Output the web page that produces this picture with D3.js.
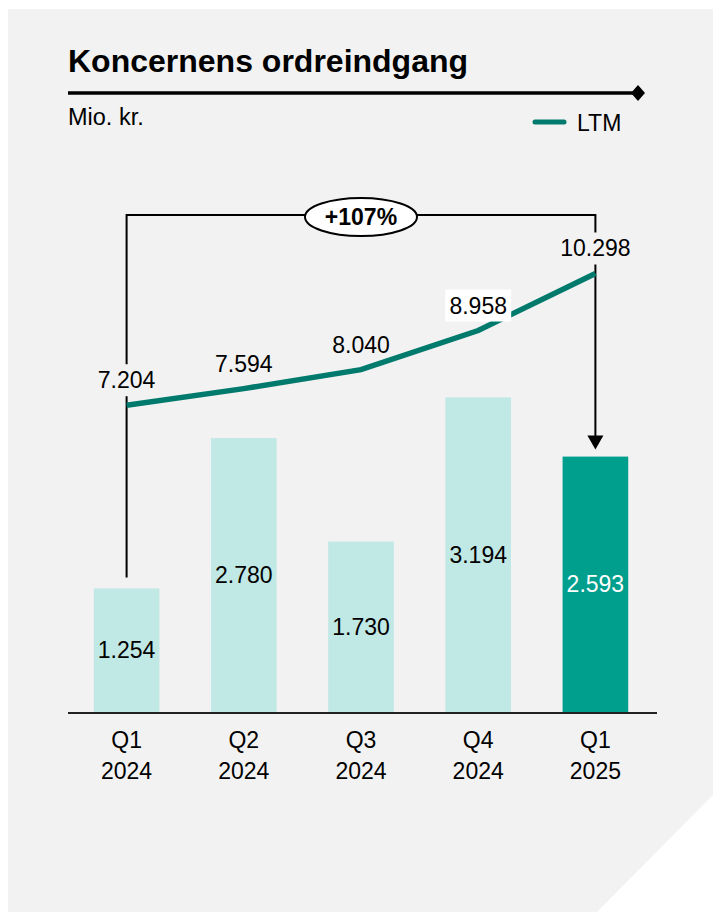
<!DOCTYPE html>
<html>
<head>
<meta charset="utf-8">
<script src="https://cdn.jsdelivr.net/npm/d3@7"></script>
<style>
	body { margin: 0; background: #ffffff; }
	svg { display: block; font-family: "Liberation Sans", Arial, sans-serif; }
</style>
</head>
<body>
<svg id="chart"></svg>
<script>
var quarters = ["Q1", "Q2", "Q3", "Q4", "Q1"];
var years = ["2024", "2024", "2024", "2024", "2025"];
var orderIntake = [1254, 2780, 1730, 3194, 2593];
var ltm = [7204, 7594, 8040, 8958, 10298];
var growthLabel = "+107%";

var width = 713;
var height = 912;

var svg = d3.select("#chart")
	.attr("width", width)
	.attr("height", height);

// panel with cut corner
svg.append("path")
	.attr("d", "M8,9 L713,9 L713,795 L597,912 L8,912 Z")
	.attr("fill", "#f2f2f2");

// title
svg.append("text")
	.attr("x", 68)
	.attr("y", 72)
	.attr("font-size", 32)
	.attr("font-weight", "bold")
	.attr("fill", "#000")
	.text("Koncernens ordreindgang");

svg.append("line")
	.attr("x1", 68).attr("x2", 636)
	.attr("y1", 93).attr("y2", 93)
	.attr("stroke", "#000")
	.attr("stroke-width", 3.5);

svg.append("path")
	.attr("d", "M638,85 L645,93 L638,101 L631,93 Z")
	.attr("fill", "#000");

svg.append("text")
	.attr("x", 68)
	.attr("y", 125)
	.attr("font-size", 23.5)
	.text("Mio. kr.");

// legend
svg.append("line")
	.attr("x1", 535).attr("x2", 564)
	.attr("y1", 122).attr("y2", 122)
	.attr("stroke", "#007a6c")
	.attr("stroke-width", 5)
	.attr("stroke-linecap", "round");

svg.append("text")
	.attr("x", 577)
	.attr("y", 131)
	.attr("font-size", 23)
	.text("LTM");

// scales
var xScale = d3.scaleBand()
	.domain(d3.range(quarters.length))
	.range([68, 654])
	.paddingInner(0.44)
	.paddingOuter(0.22);

var yBar = d3.scaleLinear()
	.domain([0, 4000])
	.range([712, 318]);

var yLine = d3.scaleLinear()
	.domain([0, 12000])
	.range([712, 201]);

function cx(i) { return xScale(i) + xScale.bandwidth() / 2; }

// bars
svg.selectAll(".bar")
	.data(orderIntake)
	.enter()
	.append("rect")
	.attr("class", "bar")
	.attr("x", function(d, i) { return xScale(i); })
	.attr("y", function(d) { return yBar(d); })
	.attr("width", xScale.bandwidth())
	.attr("height", function(d) { return yBar(0) - yBar(d); })
	.attr("fill", function(d, i) { return i == orderIntake.length - 1 ? "#009e8c" : "#c0e8e4"; });

svg.selectAll(".barlabel")
	.data(orderIntake)
	.enter()
	.append("text")
	.attr("class", "barlabel")
	.attr("x", function(d, i) { return cx(i); })
	.attr("y", function(d) { return (yBar(d) + yBar(0)) / 2 + 8; })
	.attr("text-anchor", "middle")
	.attr("font-size", 23)
	.attr("fill", function(d, i) { return i == orderIntake.length - 1 ? "#ffffff" : "#000"; })
	.text(function(d) { return d3.format(",")(d).replace(",", "."); });

// axis baseline
svg.append("line")
	.attr("x1", 68).attr("x2", 657)
	.attr("y1", yBar(0) + 1).attr("y2", yBar(0) + 1)
	.attr("stroke", "#222")
	.attr("stroke-width", 2);

// category labels
for (var i = 0; i < quarters.length; i++) {
	svg.append("text")
		.attr("x", cx(i))
		.attr("y", 748)
		.attr("text-anchor", "middle")
		.attr("font-size", 23)
		.text(quarters[i]);
	svg.append("text")
		.attr("x", cx(i))
		.attr("y", 779)
		.attr("text-anchor", "middle")
		.attr("font-size", 23)
		.text(years[i]);
}

// growth bracket
var last = ltm.length - 1;
var bracketY = 215;

svg.append("path")
	.attr("d", "M" + cx(0) + "," + (yBar(orderIntake[0]) - 11) +
		" L" + cx(0) + "," + bracketY +
		" L" + cx(last) + "," + bracketY +
		" L" + cx(last) + "," + (yBar(orderIntake[last]) - 18))
	.attr("fill", "none")
	.attr("stroke", "#000")
	.attr("stroke-width", 2);

var tipY = yBar(orderIntake[last]) - 7;
svg.append("path")
	.attr("d", "M" + (cx(last) - 8) + "," + (tipY - 14) + " L" + (cx(last) + 8) + "," + (tipY - 14) + " L" + cx(last) + "," + tipY + " Z")
	.attr("fill", "#000");

var midX = (cx(0) + cx(last)) / 2;
svg.append("ellipse")
	.attr("cx", midX)
	.attr("cy", bracketY + 2)
	.attr("rx", 56)
	.attr("ry", 19)
	.attr("fill", "#fff")
	.attr("stroke", "#000")
	.attr("stroke-width", 2);

svg.append("text")
	.attr("x", midX)
	.attr("y", bracketY + 10)
	.attr("text-anchor", "middle")
	.attr("font-size", 23)
	.attr("font-weight", "bold")
	.text(growthLabel);

// LTM line
var line = d3.line()
	.x(function(d, i) { return cx(i); })
	.y(function(d) { return yLine(d); });

svg.append("path")
	.datum(ltm)
	.attr("d", line)
	.attr("fill", "none")
	.attr("stroke", "#007a6c")
	.attr("stroke-width", 5.5);

// LTM labels with background boxes
var labelG = svg.selectAll(".ltmlabel")
	.data(ltm)
	.enter()
	.append("g")
	.attr("class", "ltmlabel")
	.attr("transform", function(d, i) { return "translate(" + cx(i) + "," + (yLine(d) - 25) + ")"; });

labelG.append("rect")
	.attr("x", function(d) { return d >= 10000 ? -38 : -33; })
	.attr("y", -16)
	.attr("width", function(d) { return d >= 10000 ? 76 : 66; })
	.attr("height", 32)
	.attr("fill", function(d, i) { return i == 3 ? "#ffffff" : "none"; });

labelG.filter(function(d, i) { return i == 0 || i == last; })
	.select("rect")
	.attr("fill", "#f2f2f2");

labelG.append("text")
	.attr("y", 8)
	.attr("text-anchor", "middle")
	.attr("font-size", 23)
	.text(function(d) { return d3.format(",")(d).replace(",", "."); });
</script>
</body>
</html>
